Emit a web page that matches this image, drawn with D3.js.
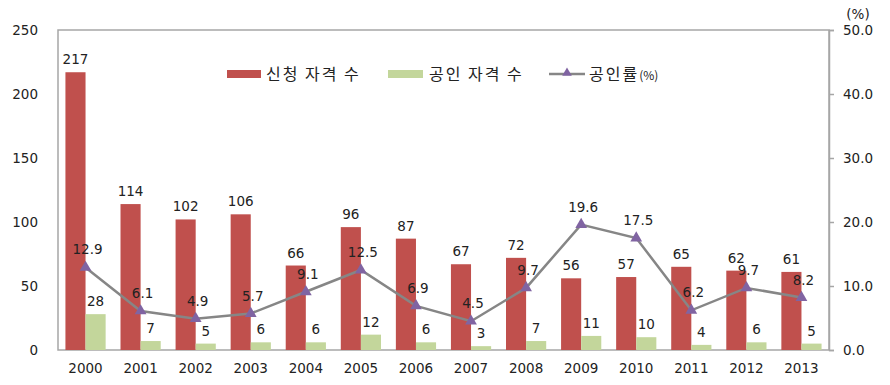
<!DOCTYPE html>
<html>
<head>
<meta charset="utf-8">
<script src="https://cdn.jsdelivr.net/npm/d3@7"></script>
<style>
  body { margin: 0; background: #fff; }
  svg text { font-family: "DejaVu Sans", Verdana, sans-serif; fill: #222; }
  svg text.kr { font-family: "Noto Sans CJK KR", sans-serif; letter-spacing: 2px; }
</style>
</head>
<body>
<svg id="chart" width="890" height="385"></svg>
<script>
var years = ["2000", "2001", "2002", "2003", "2004", "2005", "2006", "2007", "2008", "2009", "2010", "2011", "2012", "2013"];
var applied = [217, 114, 102, 106, 66, 96, 87, 67, 72, 56, 57, 65, 62, 61];
var approved = [28, 7, 5, 6, 6, 12, 6, 3, 7, 11, 10, 4, 6, 5];
var rate = [12.9, 6.1, 4.9, 5.7, 9.1, 12.5, 6.9, 4.5, 9.7, 19.6, 17.5, 6.2, 9.7, 8.2];
var leftTicks = [0, 50, 100, 150, 200, 250];
var rightTicks = [0, 10, 20, 30, 40, 50];
var seriesNames = ["신청 자격 수", "공인 자격 수", "공인률"];

var RED = "#c0504d", GREEN = "#c3d69b", LINE = "#868686", MARK = "#8064a2", AXIS = "#a6a6a6";
var m = { left: 58, right: 829, top: 30, bottom: 350 };

var svg = d3.select("#chart");

var x = d3.scaleBand().domain(years).range([m.left, m.right]).paddingInner(0.27).paddingOuter(0.135);
var yL = d3.scaleLinear().domain([0, 250]).range([m.bottom, m.top]);
var yR = d3.scaleLinear().domain([0, 50]).range([m.bottom, m.top]);
var bw = x.bandwidth() / 2;

// plot frame
svg.append("rect")
    .attr("x", m.left).attr("y", m.top)
    .attr("width", m.right - m.left).attr("height", m.bottom - m.top)
    .attr("fill", "none").attr("stroke", AXIS).attr("stroke-width", 1.5);

// left axis labels
svg.append("g").selectAll("text").data(leftTicks).enter().append("text")
    .attr("x", 38).attr("y", function (d) { return yL(d) + 5; })
    .attr("text-anchor", "end").attr("font-size", 13.5)
    .text(function (d) { return d; });

// right axis with ticks
var rAxis = svg.append("g").attr("transform", "translate(" + m.right + ",0)")
    .call(d3.axisRight(yR).tickValues(rightTicks).tickSize(5).tickPadding(9).tickFormat(d3.format(".1f")));
rAxis.select(".domain").attr("stroke", AXIS).attr("stroke-width", 1.5);
rAxis.selectAll(".tick line").attr("stroke", AXIS).attr("stroke-width", 1.5);
rAxis.selectAll(".tick text").attr("font-size", 13.5).attr("font-family", "DejaVu Sans, Verdana, sans-serif").attr("fill", "#222");

svg.append("text").attr("x", 858).attr("y", 19).attr("text-anchor", "middle")
    .attr("font-size", 13.5).text("(%)");

// bottom year labels
svg.append("g").selectAll("text").data(years).enter().append("text")
    .attr("x", function (d) { return x(d) + x.bandwidth() / 2; })
    .attr("y", 373).attr("text-anchor", "middle").attr("font-size", 13.5)
    .text(function (d) { return d; });

// bars
svg.append("g").selectAll("rect").data(applied).enter().append("rect")
    .attr("x", function (d, i) { return x(years[i]); })
    .attr("y", function (d) { return yL(d); })
    .attr("width", bw).attr("height", function (d) { return m.bottom - yL(d); })
    .attr("fill", RED);
svg.append("g").selectAll("rect").data(approved).enter().append("rect")
    .attr("x", function (d, i) { return x(years[i]) + bw; })
    .attr("y", function (d) { return yL(d); })
    .attr("width", bw).attr("height", function (d) { return m.bottom - yL(d); })
    .attr("fill", GREEN);

// bar labels
svg.append("g").selectAll("text").data(applied).enter().append("text")
    .attr("x", function (d, i) { return x(years[i]) + bw / 2; })
    .attr("y", function (d) { return yL(d) - 8; })
    .attr("text-anchor", "middle").attr("font-size", 13.5)
    .text(function (d) { return d; });
svg.append("g").selectAll("text").data(approved).enter().append("text")
    .attr("x", function (d, i) { return x(years[i]) + bw * 1.5; })
    .attr("y", function (d) { return yL(d) - 8; })
    .attr("text-anchor", "middle").attr("font-size", 13.5)
    .text(function (d) { return d; });

// rate line
var cx = function (d, i) { return x(years[i]) + x.bandwidth() / 2; };
var line = d3.line().x(cx).y(function (d) { return yR(d); });
svg.append("path").datum(rate).attr("d", line)
    .attr("fill", "none").attr("stroke", LINE).attr("stroke-width", 2.5);

var tri = d3.symbol().type(d3.symbolTriangle).size(60);
svg.append("g").selectAll("path").data(rate).enter().append("path")
    .attr("d", tri)
    .attr("transform", function (d, i) { return "translate(" + cx(d, i) + "," + yR(d) + ")"; })
    .attr("fill", MARK);

svg.append("g").selectAll("text").data(rate).enter().append("text")
    .attr("x", function (d, i) { return cx(d, i) + 2; })
    .attr("y", function (d) { return yR(d) - 13; })
    .attr("text-anchor", "middle").attr("font-size", 13.5)
    .text(function (d) { return d.toFixed(1); });

// legend
var lg = svg.append("g");
lg.append("rect").attr("x", 227).attr("y", 70).attr("width", 34).attr("height", 8).attr("fill", RED);
lg.append("text").attr("class", "kr").attr("x", 266).attr("y", 80).attr("font-size", 16).text(seriesNames[0]);
lg.append("rect").attr("x", 388).attr("y", 70).attr("width", 35).attr("height", 8).attr("fill", GREEN);
lg.append("text").attr("class", "kr").attr("x", 429).attr("y", 80).attr("font-size", 16).text(seriesNames[1]);
lg.append("line").attr("x1", 549).attr("x2", 585).attr("y1", 74).attr("y2", 74)
    .attr("stroke", LINE).attr("stroke-width", 2.5);
lg.append("path").attr("d", d3.symbol().type(d3.symbolTriangle).size(40)).attr("transform", "translate(567,73)").attr("fill", MARK);
var lt = lg.append("text").attr("class", "kr").attr("x", 589).attr("y", 80).attr("font-size", 16);
lt.append("tspan").text(seriesNames[2]);
lt.append("tspan").attr("font-size", 12).style("letter-spacing", "0px").text("(%)");
</script>
</body>
</html>
